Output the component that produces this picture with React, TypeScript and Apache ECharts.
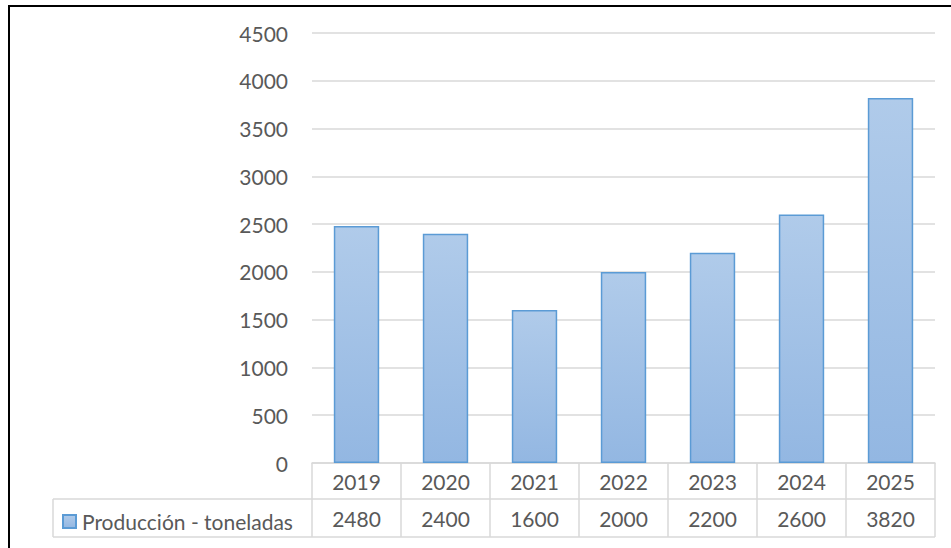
import React, { useEffect, useRef } from "react";
import * as echarts from "echarts";

const years = ["2019", "2020", "2021", "2022", "2023", "2024", "2025"];
const values = [2480, 2400, 1600, 2000, 2200, 2600, 3820];
const seriesName = "Producción - toneladas";
const yMax = 4500;
const yInterval = 500;

const FONT = "Lato";
const FS = 21;
const TEXT = "#595959";
const GRID = "#d9d9d9";

export default function App() {
  const ref = useRef<HTMLDivElement>(null);
  useEffect(() => {
    document.body.style.margin = "0";
    const chart = echarts.init(ref.current!, null, { renderer: "svg" });
    const gl = 312, gr = 935, gt = 33, gb = 463;
    const row1 = 499, row2 = 537, legL = 53;
    chart.setOption({
      animation: false,
      textStyle: { fontFamily: FONT },
      grid: { left: gl, right: 951 - gr, top: gt, bottom: 548 - gb },
      legend: {
        show: true,
        left: 62,
        top: 511,
        icon: "rect",
        itemWidth: 13,
        itemHeight: 13,
        itemGap: 6,
        padding: 0,
        textStyle: { color: TEXT, fontSize: FS, fontFamily: FONT, padding: [1, 0, 0, 1] },
        data: [seriesName],
      },
      xAxis: {
        type: "category",
        data: years,
        boundaryGap: true,
        axisLine: { show: true, lineStyle: { color: GRID, width: 1.5 } },
        axisTick: { show: true, length: row2 - gb, lineStyle: { color: GRID, width: 1.5 } },
        axisLabel: {
          margin: 0,
          interval: 0,
          formatter: (v: string, i: number) => `{y|${v}}\n{v|${values[i]}}`,
          rich: {
            y: { fontSize: FS, color: TEXT, lineHeight: 37, fontFamily: FONT },
            v: { fontSize: FS, color: TEXT, lineHeight: 37, fontFamily: FONT },
          },
        },
      },
      yAxis: {
        type: "value",
        min: 0,
        max: yMax,
        interval: yInterval,
        axisLine: { show: false },
        axisTick: { show: false },
        axisLabel: {
          color: TEXT,
          fontSize: FS,
          margin: 24,
          fontFamily: FONT,
          formatter: (v: number) => String(v),
        },
        splitLine: { lineStyle: { color: GRID, width: 1.5 } },
      },
      series: [
        {
          name: seriesName,
          type: "bar",
          data: values,
          barWidth: "51%",
          itemStyle: {
            color: new echarts.graphic.LinearGradient(0, 0, 0, 1, [
              { offset: 0, color: "#b0cbea" },
              { offset: 1, color: "#93b7e2" },
            ]),
            borderColor: "#5b9bd5",
            borderWidth: 1.5,
          },
        },
      ],
      graphic: [
        { type: "line", shape: { x1: legL, y1: row1, x2: gr, y2: row1 }, style: { stroke: GRID, lineWidth: 1.5 } },
        { type: "line", shape: { x1: legL, y1: row2, x2: gr, y2: row2 }, style: { stroke: GRID, lineWidth: 1.5 } },
        { type: "line", shape: { x1: legL, y1: row1, x2: legL, y2: row2 }, style: { stroke: GRID, lineWidth: 1.5 } },
        { type: "rect", shape: { x: 9, y: 6, width: 960, height: 600 }, style: { fill: "none", stroke: "#000", lineWidth: 2 } },
      ],
    });
    return () => chart.dispose();
  }, []);
  return <div ref={ref} style={{ width: 951, height: 548 }} />;
}
